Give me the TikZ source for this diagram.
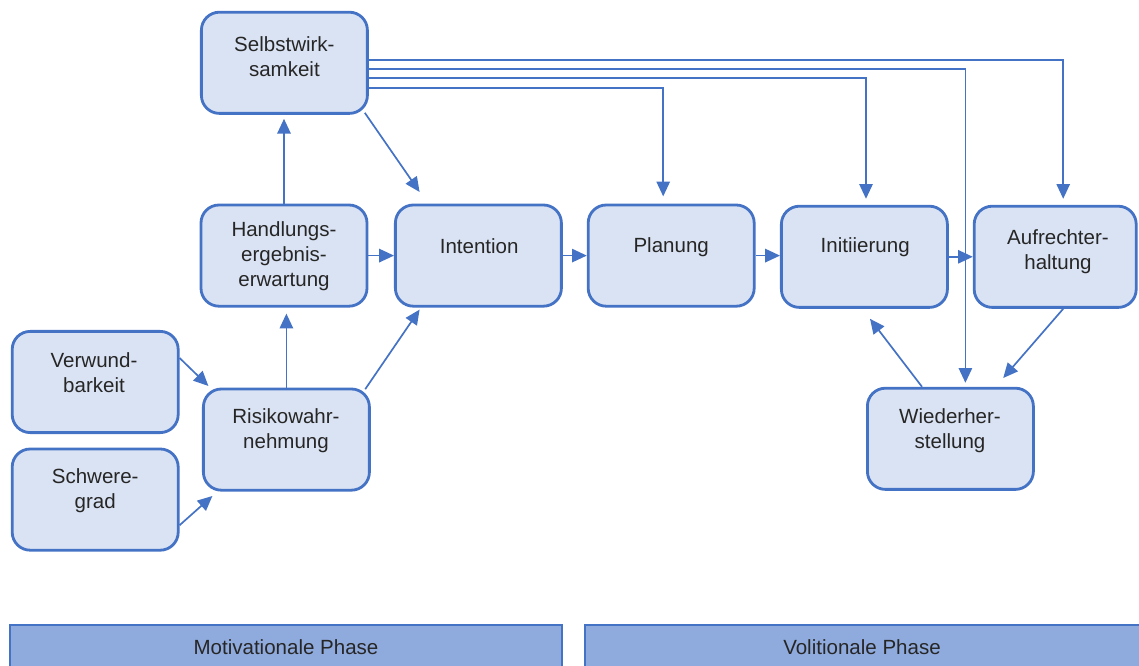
\documentclass[tikz,border=0pt]{standalone}
\usepackage{fontspec}
\setmainfont{Liberation Sans}
\usepackage{tikz}
\usetikzlibrary{arrows.meta}
\definecolor{boxfill}{HTML}{DAE3F3}
\definecolor{boxline}{HTML}{4472C4}
\definecolor{barfill}{HTML}{8FAADC}
\definecolor{ink}{HTML}{262626}
\tikzstyle{stage}=[draw=boxline, fill=boxfill, line width=2pt, rounded corners=0.45cm, minimum width=4.15cm, minimum height=2.53cm, inner sep=0pt]
\tikzstyle{boxtext}=[align=center, text=ink, inner sep=0pt, font=\fontsize{14.6pt}{17.8pt}\selectfont]
\tikzstyle{link}=[draw=boxline, line width=1.2pt, -{Triangle[length=10.5pt,width=9.5pt]}]
\tikzstyle{phasebar}=[draw=boxline, fill=barfill, line width=1.1pt, minimum height=1.075cm, inner sep=0pt]

\begin{document}
\begin{tikzpicture}
 	\useasboundingbox (0.0cm,0.0cm) rectangle (28.475cm,16.65cm);
 	\node[stage] (selbst) at (7.11cm,15.08cm) {};
 	\node[stage] (handlung) at (7.10cm,10.26cm) {};
 	\node[stage] (intention) at (11.96cm,10.26cm) {};
 	\node[stage] (planung) at (16.78cm,10.26cm) {};
 	\node[stage] (initiierung) at (21.61cm,10.23cm) {};
 	\node[stage, minimum width=4.05cm] (aufrecht) at (26.38cm,10.23cm) {};
 	\node[stage] (verwund) at (2.38cm,7.10cm) {};
 	\node[stage] (risiko) at (7.16cm,5.66cm) {};
 	\node[stage] (schwere) at (2.38cm,4.16cm) {};
 	\node[stage] (wieder) at (23.76cm,5.68cm) {};
 	\node[phasebar, minimum width=13.8cm] (motivation) at (7.15cm,0.49cm) {};
 	\node[phasebar, minimum width=13.93cm] (volition) at (21.59cm,0.49cm) {};
 	\node[boxtext] (selbst-t) at (7.11cm,15.24cm) {Selbstwirk-\\samkeit};
 	\node[boxtext] (handlung-t) at (7.10cm,10.25cm) {Handlungs-\\ergebnis-\\erwartung};
 	\node[boxtext] (intention-t) at (11.98cm,10.50cm) {Intention};
 	\node[boxtext] (planung-t) at (16.78cm,10.48cm) {Planung};
 	\node[boxtext] (initiierung-t) at (21.63cm,10.48cm) {Initiierung};
 	\node[boxtext] (aufrecht-t) at (26.45cm,10.35cm) {Aufrechter-\\haltung};
 	\node[boxtext] (verwund-t) at (2.35cm,7.34cm) {Verwund-\\barkeit};
 	\node[boxtext] (risiko-t) at (7.15cm,5.89cm) {Risikowahr-\\nehmung};
 	\node[boxtext] (schwere-t) at (2.38cm,4.39cm) {Schwere-\\grad};
 	\node[boxtext] (wieder-t) at (23.75cm,5.89cm) {Wiederher-\\stellung};
 	\node[boxtext] (motivation-t) at (7.15cm,0.475cm) {Motivationale Phase};
 	\node[boxtext] (volition-t) at (21.55cm,0.475cm) {Volitionale Phase};
 	\draw[link, shorten >=0.1cm] (handlung.north) -- (handlung.north |- selbst.south);
 	\draw[link] ([shift={(-0.1cm,0.05cm)}]selbst.south east) -- ([shift={(0.64cm,0.29cm)}]intention.north west);
 	\draw[link] (handlung.east) -- (intention.west);
 	\draw[link] (intention.east) -- (planung.west);
 	\draw[link] (planung.east) -- (planung.east -| initiierung.west);
 	\draw[link] (initiierung.east) -- (aufrecht.west);
 	\draw[link, shorten >=0.15cm] (risiko.north) -- (risiko.north |- handlung.south);
 	\draw[link] ([shift={(-0.14cm,-0.04cm)}]risiko.north east) -- ([shift={(0.64cm,-0.05cm)}]intention.south west);
 	\draw[link] ([yshift=0.6cm]verwund.east) -- ([shift={(0.16cm,0.04cm)}]risiko.north west);
 	\draw[link] ([yshift=-0.64cm]schwere.east) -- ([shift={(0.26cm,-0.11cm)}]risiko.south west);
 	\draw[link, shorten >=0.18cm] ([yshift=-0.625cm]selbst.east) -| ([xshift=-0.2cm]planung.north);
 	\draw[link, shorten >=0.15cm] ([yshift=-0.375cm]selbst.east) -| ([xshift=0.04cm]initiierung.north);
 	\draw[link, shorten >=0.1cm] ([yshift=-0.15cm]selbst.east) -| ([xshift=0.375cm]wieder.north);
 	\draw[link, shorten >=0.15cm] ([yshift=0.075cm]selbst.east) -| ([xshift=0.2cm]aufrecht.north);
 	\draw[link] ([xshift=0.2cm]aufrecht.south) -- ([shift={(-0.79cm,0.22cm)}]wieder.north east);
 	\draw[link] ([xshift=-0.71cm]wieder.north) -- ([shift={(0.14cm,-0.25cm)}]initiierung.south);
\end{tikzpicture}
\end{document}
